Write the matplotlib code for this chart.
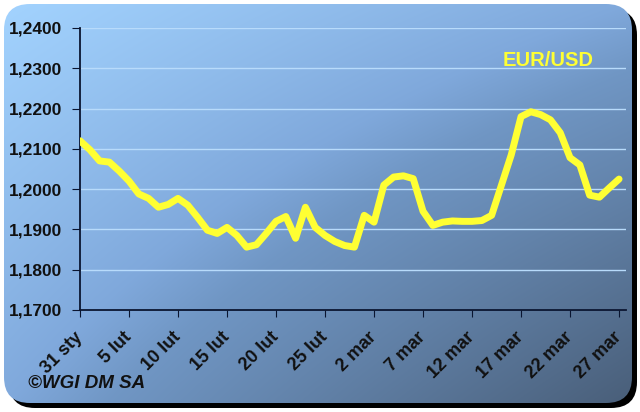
import numpy as np
import matplotlib
matplotlib.use('Agg')
import matplotlib.pyplot as plt
from matplotlib.patches import FancyBboxPatch

# EUR/USD daily, 31 sty .. 27 mar
days = list(range(56))
rate = [1.2120, 1.2098, 1.2070, 1.2067, 1.2045, 1.2020, 1.1988, 1.1977,
        1.1955, 1.1962, 1.1977, 1.1960, 1.1930, 1.1898, 1.1890, 1.1905,
        1.1885, 1.1856, 1.1862, 1.1890, 1.1920, 1.1932, 1.1878, 1.1955,
        1.1905, 1.1885, 1.1870, 1.1860, 1.1856, 1.1935, 1.1918, 1.2010,
        1.2030, 1.2033, 1.2026, 1.1945, 1.1910, 1.1918, 1.1921, 1.1920,
        1.1920, 1.1922, 1.1935, 1.2010, 1.2085, 1.2180, 1.2192, 1.2185,
        1.2172, 1.2140, 1.2078, 1.2060, 1.1985, 1.1980, 1.2003, 1.2025]

tick_days = [0, 5, 10, 15, 20, 25, 30, 35, 40, 45, 50, 55]
tick_labels = ['31 sty', '5 lut', '10 lut', '15 lut', '20 lut', '25 lut',
               '2 mar', '7 mar', '12 mar', '17 mar', '22 mar', '27 mar']
y_ticks = [1.17, 1.18, 1.19, 1.20, 1.21, 1.22, 1.23, 1.24]

plt.rcParams['font.family'] = ['Liberation Sans', 'DejaVu Sans']

fig = plt.figure(figsize=(6.4, 4.12), dpi=100)
fig.patch.set_facecolor('white')

# card background with gradient and shadow
bg = fig.add_axes([0, 0, 1, 1])
bg.set_xlim(0, 640)
bg.set_ylim(412, 0)
bg.axis('off')
shadow = FancyBboxPatch((9, 9), 628, 399, boxstyle='round,pad=0,rounding_size=26',
                        fc='black', ec='none', zorder=0)
bg.add_patch(shadow)
card = FancyBboxPatch((4, 4), 628, 399, boxstyle='round,pad=0,rounding_size=26',
                      fc='none', ec='none', zorder=2)
bg.add_patch(card)
yy, xx = np.mgrid[0:412, 0:640]
u = xx / 640
v = yy / 412
t = 0.35 * (u + v) + 0.3 * u * v
stops = [0, 0.35, 0.45, 1]
cols = np.array([[0.64, 0.83, 1.00],
                 [0.50, 0.66, 0.86],
                 [0.44, 0.59, 0.77],
                 [0.28, 0.36, 0.46]])
img = np.dstack([np.interp(t, stops, cols[:, k]) for k in range(3)])
im = bg.imshow(img, extent=(0, 640, 412, 0), zorder=1, aspect='auto')
im.set_clip_path(card)

ax = fig.add_axes([0.125, 0.2476, 0.853, 0.6845])
ax.patch.set_alpha(0)
ax.plot(days, rate, color='#ffff33', lw=5, solid_capstyle='round',
        solid_joinstyle='round', zorder=3)
ax.set_xlim(0, 55.7)
ax.set_ylim(1.17, 1.24)
ax.set_yticks(y_ticks)
ax.set_yticklabels([f'{v:.4f}'.replace('.', ',') for v in y_ticks],
                   fontsize=12.5, fontweight='bold', color='#111111')
ax.set_xticks(tick_days)
ax.set_xticklabels(tick_labels, rotation=45, ha='right', va='center',
                   rotation_mode='anchor', fontsize=13, fontweight='bold',
                   color='#111111')
ax.yaxis.grid(True, color='#b8dbfb', lw=1)
ax.set_axisbelow(True)
for s in ['top', 'right']:
    ax.spines[s].set_visible(False)
for s in ['left', 'bottom']:
    ax.spines[s].set_color('#0a1530')
    ax.spines[s].set_linewidth(1.3)
ax.tick_params(axis='y', direction='out', length=6, color='#0a1530', pad=7)
ax.tick_params(axis='x', direction='out', length=5, color='#0a1530', pad=13)

fig.text(0.856, 0.854, 'EUR/USD', color='#ffff33', fontsize=14.5,
         fontweight='bold', ha='center', va='center')
fig.text(0.044, 0.068, '\u00a9WGI DM SA', color='#111111', fontsize=13.5,
         fontweight='bold', fontstyle='italic', ha='left', va='center')

fig.savefig('out.png', dpi=100)
